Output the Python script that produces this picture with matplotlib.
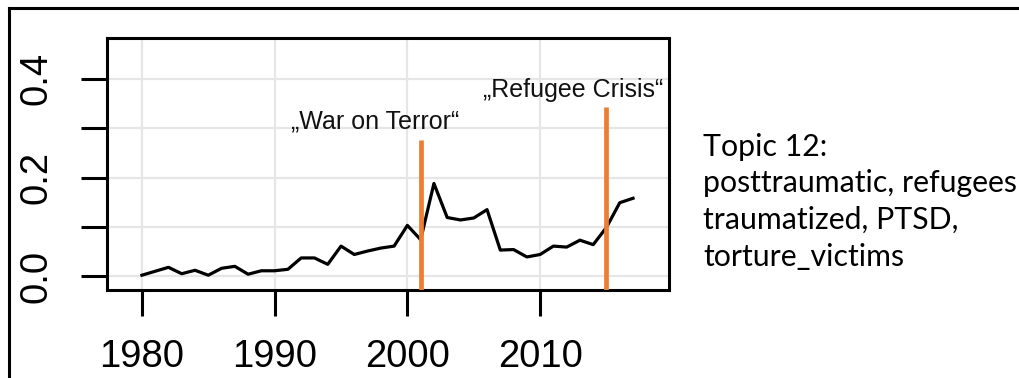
import matplotlib
matplotlib.use("Agg")
import matplotlib.pyplot as plt
from matplotlib.lines import Line2D

years = list(range(1980, 2018))
share = [0.002, 0.010, 0.018, 0.005, 0.012, 0.002, 0.016, 0.020, 0.004, 0.011,
         0.011, 0.014, 0.037, 0.037, 0.024, 0.061, 0.044, 0.051, 0.057, 0.061,
         0.103, 0.074, 0.188, 0.119, 0.114, 0.118, 0.135, 0.053, 0.054, 0.039,
         0.044, 0.061, 0.059, 0.073, 0.064, 0.099, 0.149, 0.158]

event_years = [2001, 2015]
event_tops = [0.276, 0.343]
event_labels = ["\u201eWar on Terror\u201c", "\u201eRefugee Crisis\u201c"]
label_x = [1997.55, 2012.5]
label_y = [0.314, 0.377]

topic_lines = ["Topic 12:", "posttraumatic, refugees", "traumatized, PTSD,", "torture_victims"]

x_ticks = [1980, 1990, 2000, 2010]
y_ticks = [0.0, 0.1, 0.2, 0.3, 0.4]
y_ticklabels = ["0.0", "", "0.2", "", "0.4"]

W, H = 1020, 378
fig = plt.figure(figsize=(W / 100, H / 100), dpi=100)
plt.rcParams['font.family'] = ['Liberation Sans', 'DejaVu Sans']

ax = fig.add_axes([107 / W, 1 - 290 / H, (669 - 107) / W, (290 - 38) / H])
ymin, ymax = -0.028, 0.483
ax.set_xlim(1977.37, 2019.71)
ax.set_ylim(ymin, ymax)

for x in x_ticks:
    ax.axvline(x, color="#e6e6e6", lw=1.6, zorder=0)
for y in y_ticks:
    ax.axhline(y, color="#e6e6e6", lw=1.6, zorder=0)

ax.plot(years, share, color="black", lw=2.3, zorder=2)
ax.vlines(event_years, ymin, event_tops, color="#ed7d31", lw=3.4, zorder=3)
for lx, ly, txt in zip(label_x, label_y, event_labels):
    ax.text(lx, ly, txt, fontsize=18, ha="center", va="center", color="#111111")

for s in ax.spines.values():
    s.set_linewidth(2.2)
ax.set_xticks(x_ticks)
ax.set_xticklabels([str(x) for x in x_ticks])
ax.set_yticks(y_ticks)
ax.set_yticklabels(y_ticklabels, rotation=90, va="center")
ax.tick_params(axis="both", length=18.5, width=2.2, labelsize=27.5, colors="black")
ax.tick_params(axis="x", pad=17)
ax.tick_params(axis="y", pad=19)

# outer frame (top and left edges only)
fig.add_artist(Line2D([9 / W, 1.0], [1 - 8 / H, 1 - 8 / H], color="black", lw=2.2,
                      transform=fig.transFigure))
fig.add_artist(Line2D([9 / W, 9 / W], [1 - 8 / H, 0.0], color="black", lw=2.2,
                      transform=fig.transFigure))

baselines = [156, 192, 229, 266]
for line, b in zip(topic_lines, baselines):
    fig.text(703 / W, 1 - b / H, line, fontsize=21.8, family=["Lato", "DejaVu Sans"],
             va="baseline", ha="left", color="black")

fig.savefig("out.png", dpi=100)
